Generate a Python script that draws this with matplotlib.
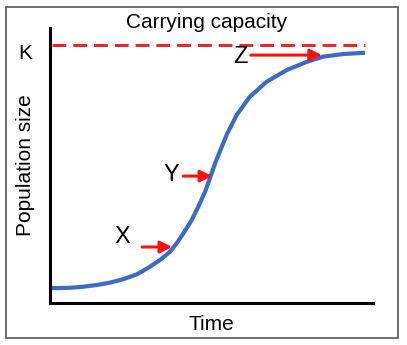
import matplotlib.pyplot as plt
from matplotlib.patches import Rectangle

plt.rcParams['font.family'] = ['Liberation Sans', 'DejaVu Sans']

# logistic growth curve
time = [0.06, 0.31, 0.62, 1.02, 1.46, 1.86, 2.26, 2.69, 3.10, 3.41, 3.72, 3.96, 4.13, 4.39,
        4.59, 4.80, 4.95, 5.11, 5.32, 5.48, 5.78, 6.19, 6.71, 7.33, 7.95, 8.46, 9.08, 9.75]
population = [58, 58, 59, 63, 70, 79, 92, 111, 141, 167, 199, 238, 270, 322,
              373, 431, 483, 541, 606, 655, 729, 800, 858, 903, 935, 955, 965, 970]
K = 1000

# point labels: name, label pos, arrow tail, arrow tip
labels = ['X', 'Y', 'Z']
label_t = [2.23, 3.75, 5.91]
label_n = [256, 496, 953]
arrow_from = [2.85, 4.12, 6.22]
arrow_to = [3.78, 5.02, 8.42]
arrow_n = [217, 492, 961]

fig = plt.figure(figsize=[4.07, 3.45], dpi=100)
ax = fig.add_axes([50/407, 42/345, 323/407, 275/345])

ax.plot(time, population, color='#3b6cc4', lw=3, solid_capstyle='butt',
        solid_joinstyle='round', zorder=3)
ax.plot([0.06, 9.75], [K, K], color='#e8262b', lw=2.2, dashes=(4.5, 2.3))

for i, lab in enumerate(labels):
    ax.text(label_t[i], label_n[i], lab, fontsize=17, ha='center', va='center')
    ax.annotate('', xy=(arrow_to[i], arrow_n[i]), xytext=(arrow_from[i], arrow_n[i]),
                arrowprops=dict(arrowstyle='-|>,head_length=0.7,head_width=0.35',
                                color='#ff1010', lw=2.2, shrinkA=0, shrinkB=0), zorder=4)

ax.set_xlim(0, 10)
ax.set_ylim(0, 1066)
ax.set_xticks([])
ax.set_yticks([])
ax.spines['top'].set_visible(False)
ax.spines['right'].set_visible(False)
ax.spines['left'].set_linewidth(2.2)
ax.spines['bottom'].set_linewidth(2.2)

ax.text(-0.77, 969, 'K', fontsize=15, ha='center', va='center')
ax.set_ylabel('Population size', fontsize=15, labelpad=11)
ax.set_xlabel('Time', fontsize=15, labelpad=9)
fig.text(207/407, 1 - 22/345, 'Carrying capacity', fontsize=15, ha='center', va='center')

fig.patches.append(Rectangle((6/407, 7/345), 392/407, 331/345, transform=fig.transFigure,
                             fill=False, edgecolor='#555555', lw=1.2))

fig.savefig('out.png', dpi=100)
